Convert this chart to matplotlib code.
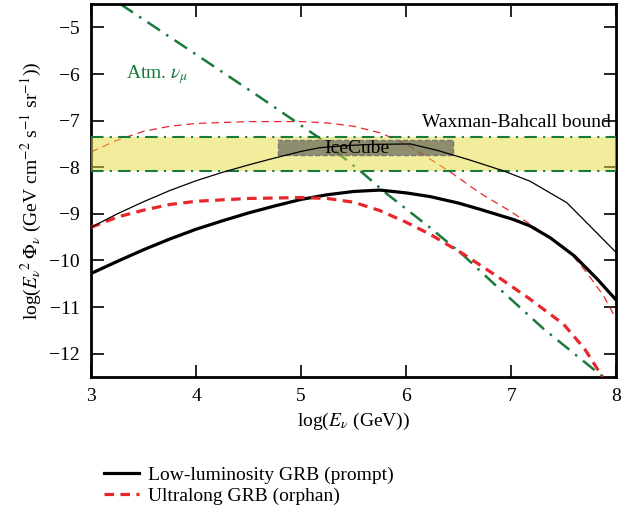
import numpy as np
import matplotlib
matplotlib.use("Agg")
import matplotlib.pyplot as plt
from matplotlib.patches import Rectangle

plt.rcParams['font.family'] = ['Liberation Serif', 'DejaVu Serif']
plt.rcParams['mathtext.fontset'] = 'stix'

# Low-luminosity GRB (prompt), thick
ll_thick_x = [3.0, 3.25, 3.5, 3.75, 4.0, 4.25, 4.5, 4.75, 5.0, 5.25, 5.5, 5.75, 6.0, 6.23, 6.5, 6.7, 7.02, 7.18, 7.37, 7.6, 7.82, 8.0]
ll_thick_y = [-10.28, -10.02, -9.77, -9.54, -9.33, -9.15, -8.98, -8.83, -8.69, -8.59, -8.52, -8.49, -8.55, -8.63, -8.77, -8.9, -9.12, -9.26, -9.51, -9.9, -10.4, -10.85]
# Low-luminosity GRB, thin
ll_thin_x = [3.0, 3.25, 3.5, 3.75, 4.0, 4.25, 4.5, 4.7, 5.0, 5.18, 5.4, 5.66, 6.04, 6.3, 6.6, 6.93, 7.18, 7.53, 7.75, 8.0]
ll_thin_y = [-9.29, -9.0, -8.74, -8.5, -8.29, -8.11, -7.95, -7.83, -7.66, -7.58, -7.54, -7.51, -7.5, -7.64, -7.84, -8.08, -8.3, -8.76, -9.26, -9.83]
# Ultralong GRB (orphan), thick
ul_thick_x = [3.0, 3.25, 3.5, 3.75, 4.0, 4.5, 5.0, 5.25, 5.5, 5.75, 6.0, 6.23, 6.55, 6.86, 7.18, 7.5, 7.7, 7.87]
ul_thick_y = [-9.29, -9.07, -8.92, -8.8, -8.73, -8.67, -8.65, -8.67, -8.75, -8.93, -9.18, -9.44, -9.87, -10.33, -10.83, -11.37, -11.9, -12.5]
# Ultralong GRB (orphan), thin
ul_thin_x = [3.0, 3.25, 3.5, 3.75, 4.0, 4.5, 5.0, 5.25, 5.5, 5.75, 6.0, 6.26, 6.42, 6.7, 6.96, 7.18, 7.37, 7.56, 7.72, 7.88, 8.0]
ul_thin_y = [-7.67, -7.42, -7.23, -7.12, -7.06, -7.02, -7.02, -7.05, -7.12, -7.26, -7.5, -7.87, -8.1, -8.55, -8.9, -9.22, -9.51, -9.83, -10.26, -10.76, -11.26]
# Atmospheric nu_mu
atm_x = [3.28, 4.04, 4.61, 5.16, 5.59, 5.81, 6.23, 6.55, 6.86, 7.31, 7.82, 7.88]
atm_y = [-4.5, -5.64, -6.5, -7.35, -8.13, -8.56, -9.3, -9.9, -10.55, -11.47, -12.4, -12.5]
# Waxman-Bahcall bound band
wb_low, wb_high = -8.09, -7.35
# IceCube box
ic_x = [4.78, 6.45]
ic_y = [-7.74, -7.42]

red = '#e8262b'
green = '#1a7a3c'

fig = plt.figure(figsize=(6.32, 5.15), dpi=100)
ax = fig.add_axes([0.144, 0.268, 0.831, 0.724])

ax.plot(ll_thick_x, ll_thick_y, color='black', lw=2.3, label='Low-luminosity GRB (prompt)', zorder=3)
ax.plot(ll_thin_x, ll_thin_y, color='black', lw=0.9, zorder=5)
ax.plot(ul_thick_x, ul_thick_y, color=red, lw=2.3, ls=(0, (3, 2)), label='Ultralong GRB (orphan)', zorder=3)
ax.plot(ul_thin_x, ul_thin_y, color=red, lw=0.9, ls=(0, (6, 4)), zorder=2)
ax.plot(atm_x, atm_y, color=green, lw=1.8, ls=(0, (6, 3, 1, 3)), zorder=2)

ax.axhspan(wb_low, wb_high, color='#e5dc3c', alpha=0.5, lw=0, zorder=4)
for yy in (wb_low, wb_high):
    ax.axhline(yy, color=green, lw=1.5, ls=(0, (6, 3, 1, 3)), zorder=4)
ax.add_patch(Rectangle((ic_x[0], ic_y[0]), ic_x[1] - ic_x[0], ic_y[1] - ic_y[0],
                       facecolor=(0.3, 0.3, 0.3, 0.6), edgecolor='#777777', lw=1, ls='--', zorder=4))
ax.text(5.53, -7.6, 'IceCube', fontsize=14, ha='center', va='center', zorder=6)
ax.text(7.95, -7.03, 'Waxman-Bahcall bound', fontsize=14, ha='right', va='center', zorder=6)
ax.text(3.33, -6.02, r'Atm. $\nu_\mu$', fontsize=14, color=green, ha='left', va='center', zorder=6)

ax.set_xlim(3, 8)
ax.set_ylim(-12.5, -4.5)
ax.set_xticks([3, 4, 5, 6, 7, 8])
ax.set_yticks([-12, -11, -10, -9, -8, -7, -6, -5])
ax.set_yticklabels(['\u221212', '\u221211', '\u221210', '\u22129', '\u22128', '\u22127', '\u22126', '\u22125'])
ax.tick_params(direction='in', length=9, width=1.2, top=True, right=True, labelsize=14, pad=8)
for s in ax.spines.values():
    s.set_linewidth(2)

ax.set_xlabel(r'log($E_\nu$ (GeV))', fontsize=14)
ax.set_ylabel(r'log($E_\nu{}^{2}\,\Phi_\nu$ (GeV cm$^{-2}$ s$^{-1}$ sr$^{-1}$))', fontsize=14, labelpad=4)

fig.legend(handles=ax.get_lines()[:1] + [ax.get_lines()[2]],
           loc='upper left', bbox_to_anchor=(0.153, 0.109), frameon=False, fontsize=14,
           handlelength=1.8, labelspacing=0.15, handletextpad=0.45, borderaxespad=0)

fig.savefig('out.png', dpi=100)
